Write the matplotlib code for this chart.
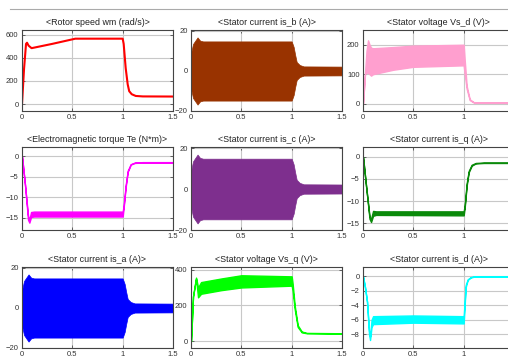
import matplotlib
matplotlib.use("Agg")
import matplotlib.pyplot as plt
from matplotlib.lines import Line2D
from matplotlib import font_manager

names = {f.name for f in font_manager.fontManager.ttflist}
FAM = ['Liberation Sans Narrow', 'DejaVu Sans'] if 'Liberation Sans Narrow' in names else ['Liberation Sans', 'DejaVu Sans']
plt.rcParams['font.family'] = FAM

x_ticks = [0, 0.5, 1, 1.5]
x_tick_labels = ['0', '0.5', '1', '1.5']

# Rotor speed
t_speed = [0, 0.02, 0.04, 0.05, 0.065, 0.095, 0.3, 0.53, 1.0, 1.01, 1.03, 1.05, 1.065, 1.09, 1.13, 1.2, 1.5]
speed = [0, 300, 520, 530, 505, 483, 520, 565, 565, 520, 311, 170, 111, 85, 70, 66, 65]

# Stator current envelopes (is_a, is_b, is_c)
t_cur = [0, 0.005, 0.02, 0.04, 0.065, 0.09, 0.12, 1.0, 1.02, 1.035, 1.05, 1.08, 1.12, 1.5]
amp_a = [5, 10, 13.5, 15.0, 16.8, 15.2, 14.8, 14.8, 12, 8, 4.5, 3, 2.3, 2.2]
amp_b = [5, 10, 13.5, 15.0, 16.8, 15.2, 14.8, 14.8, 12, 8, 4.5, 3, 2.3, 2.2]
amp_c = [5, 10, 13.5, 15.0, 16.8, 15.2, 14.8, 14.8, 12, 8, 4.5, 3, 2.3, 2.2]

# Stator voltage Vs_d band
t_vsd = [0, 0.02, 0.035, 0.05, 0.065, 0.08, 0.1, 0.3, 0.5, 1.0, 1.01, 1.03, 1.06, 1.1, 1.5]
vsd_hi = [0, 105, 180, 215, 200, 190, 188, 192, 197, 200, 150, 60, 15, 5, 3]
vsd_lo = [0, 100, 105, 105, 100, 95, 100, 115, 125, 130, 100, 50, 12, 4, 3]

# Electromagnetic torque Te band
t_te = [0, 0.03, 0.06, 0.073, 0.09, 0.12, 1.0, 1.01, 1.03, 1.05, 1.08, 1.12, 1.2, 1.5]
te_hi = [0, -7, -14.5, -15.5, -13.6, -13.5, -13.5, -12, -7, -3.5, -1.9, -1.5, -1.4, -1.4]
te_lo = [0, -7, -15.5, -16.2, -14.8, -14.7, -14.7, -12.5, -7.5, -3.8, -2.0, -1.6, -1.5, -1.5]

# Stator current is_q band
t_iq = [0, 0.03, 0.065, 0.08, 0.1, 0.13, 1.0, 1.01, 1.03, 1.05, 1.08, 1.12, 1.2, 1.5]
iq_hi = [0, -6.5, -13.5, -14.0, -12.2, -12.3, -12.3, -11, -6, -3.2, -1.8, -1.4, -1.3, -1.3]
iq_lo = [0, -6.5, -14.0, -14.7, -13.3, -13.1, -13.2, -11.5, -6.5, -3.5, -2.0, -1.5, -1.4, -1.4]

# Stator voltage Vs_q band
t_vsq = [0, 0.02, 0.05, 0.07, 0.1, 0.3, 0.5, 1.0, 1.01, 1.03, 1.06, 1.1, 1.15, 1.5]
vsq_hi = [0, 250, 355, 300, 330, 350, 368, 362, 320, 200, 90, 55, 47, 45]
vsq_lo = [0, 250, 350, 245, 265, 285, 300, 310, 280, 180, 80, 50, 45, 43]

# Stator current is_d band
t_id = [0, 0.02, 0.04, 0.06, 0.07, 0.085, 0.1, 0.5, 1.0, 1.01, 1.02, 1.04, 1.07, 1.1, 1.5]
id_hi = [0, -1.5, -3.5, -7.5, -8.3, -6.0, -5.5, -5.4, -5.5, -3.5, -1.2, -0.4, -0.1, 0, 0]
id_lo = [0, -1.5, -3.5, -8.0, -8.8, -7.0, -6.6, -6.4, -6.5, -4.0, -1.5, -0.5, -0.15, -0.05, -0.05]

titles = [["<Rotor speed wm (rad/s)>", "<Stator current is_b (A)>", "<Stator voltage Vs_d (V)>"],
          ["<Electromagnetic torque Te (N*m)>", "<Stator current is_c (A)>", "<Stator current is_q (A)>"],
          ["<Stator current is_a (A)>", "<Stator voltage Vs_q (V)>", "<Stator current is_d (A)>"]]

fig = plt.figure(figsize=(5.08, 3.62), dpi=100)
W, H = 508.0, 362.0
rows = [(30, 111), (147, 230), (267, 348)]
cols = [(22, 173), (191, 342), (363, 514)]

axes = {}
for r, (top, bot) in enumerate(rows):
    for c, (lft, rgt) in enumerate(cols):
        ax = fig.add_axes([lft / W, 1 - bot / H, (rgt - lft) / W, (bot - top) / H])
        ax.set_xlim(0, 1.5)
        ax.set_xticks(x_ticks)
        if c == 2:
            ax.set_xticklabels(x_tick_labels[:3] + [''])
        else:
            ax.set_xticklabels(x_tick_labels)
        ax.grid(True, color='#c8c8c8', lw=0.8)
        ax.set_axisbelow(True)
        ax.tick_params(direction='in', length=2, width=0.5, labelsize=5.5, colors='#333333',
                       top=True, right=True, pad=2.5)
        for s in ax.spines.values():
            s.set_color('#444444')
            s.set_linewidth(0.8)
        ax.set_title(titles[r][c], fontsize=6.4, pad=3.5, color='#222222')
        axes[(r, c)] = ax

# Row 1
ax = axes[(0, 0)]
ax.plot(t_speed, speed, color='#ff0000', lw=1.5)
ax.set_ylim(-60, 640)
ax.set_yticks([0, 200, 400, 600])

ax = axes[(0, 1)]
ax.fill_between(t_cur, amp_b, [-a for a in amp_b], color='#993300', lw=0.5)
ax.set_ylim(-20, 20.5)
ax.set_yticks([-20, 0, 20])

ax = axes[(0, 2)]
ax.fill_between(t_vsd, vsd_lo, vsd_hi, color='#ff9fcf', edgecolor='#ff9fcf', lw=1.0)
ax.set_ylim(-25, 250)
ax.set_yticks([0, 100, 200])

# Row 2
ax = axes[(1, 0)]
ax.fill_between(t_te, te_lo, te_hi, color='#ff00ff', edgecolor='#ff00ff', lw=1.0)
ax.set_ylim(-18, 2.3)
ax.set_yticks([-15, -10, -5, 0])

ax = axes[(1, 1)]
ax.fill_between(t_cur, amp_c, [-a for a in amp_c], color='#7e2f8e', lw=0.5)
ax.set_ylim(-20, 20.5)
ax.set_yticks([-20, 0, 20])

ax = axes[(1, 2)]
ax.fill_between(t_iq, iq_lo, iq_hi, color='#0a8a0a', edgecolor='#0a8a0a', lw=1.0)
ax.set_ylim(-16.5, 2.2)
ax.set_yticks([-15, -10, -5, 0])

# Row 3
ax = axes[(2, 0)]
ax.fill_between(t_cur, amp_a, [-a for a in amp_a], color='#0000ff', lw=0.5)
ax.set_ylim(-20, 20.5)
ax.set_yticks([-20, 0, 20])

ax = axes[(2, 1)]
ax.fill_between(t_vsq, vsq_lo, vsq_hi, color='#00ff00', edgecolor='#00ff00', lw=1.0)
ax.set_ylim(-37, 414)
ax.set_yticks([0, 200, 400])

ax = axes[(2, 2)]
ax.fill_between(t_id, id_lo, id_hi, color='#00ffff', edgecolor='#00ffff', lw=1.0)
ax.set_ylim(-9.9, 1.3)
ax.set_yticks([-8, -6, -4, -2, 0])

fig.add_artist(Line2D([10 / W, 1.0], [1 - 9 / H, 1 - 9 / H], color='#aaaaaa', lw=0.8,
                      transform=fig.transFigure))

fig.savefig('out.png', dpi=100)
